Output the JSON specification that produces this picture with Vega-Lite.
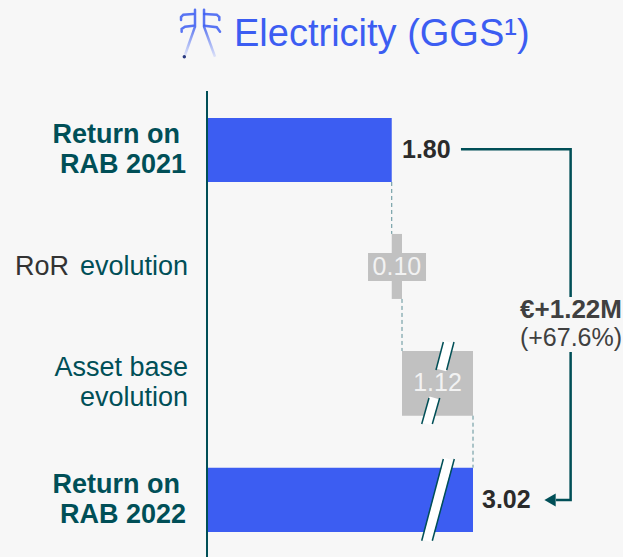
{
"$schema":"https://vega.github.io/schema/vega-lite/v6.json",
"width":623,"height":557,"autosize":"none","padding":0,"background":"#F7F7F7",
"config":{"view":{"stroke":null},"text":{"font":"Liberation Sans"}},
"datasets":{
"bars":[
{"name":"Return on RAB 2021","x":0,"x2":1.8,"y":0.732,"y2":1.281,"kind":"total"},
{"name":"RoR evolution","x":1.8,"x2":1.9,"y":1.727,"y2":2.285,"kind":"delta"},
{"name":"RoR evolution label","x":1.569,"x2":2.279,"y":1.891,"y2":2.13,"kind":"delta"},
{"name":"Asset base evolution","x":1.9,"x2":3.02,"y":2.732,"y2":3.287,"kind":"delta"},
{"name":"Return on RAB 2022","x":0,"x2":3.02,"y":3.733,"y2":4.286,"kind":"total"}],
"dashes":[{"x":1.8,"y":1.281,"y2":1.727},{"x":1.9,"y":2.285,"y2":2.732},{"x":3.02,"y":3.287,"y2":3.733}],
"bracket":[
{"g":"a","o":1,"x":2.83,"y":1.0},{"g":"a","o":2,"x":4.56,"y":1.0},{"g":"a","o":3,"x":4.56,"y":2.268},
{"g":"b","o":1,"x":4.56,"y":2.74},{"g":"b","o":2,"x":4.56,"y":4.01},{"g":"b","o":3,"x":4.33,"y":4.01}],
"strips":[
{"g":"u","o":1,"x":2.637,"y":2.655},{"g":"u","o":2,"x":2.52,"y":2.895},
{"g":"l","o":1,"x":2.41,"y":3.135},{"g":"l","o":2,"x":2.294,"y":3.358},
{"g":"b","o":1,"x":2.638,"y":3.659},{"g":"b","o":2,"x":2.294,"y":4.36}],
"stripEdges":[
{"g":"u1","o":1,"x":2.552,"y":2.655},{"g":"u1","o":2,"x":2.436,"y":2.895},
{"g":"u2","o":1,"x":2.72,"y":2.655},{"g":"u2","o":2,"x":2.605,"y":2.895},
{"g":"l1","o":1,"x":2.326,"y":3.135},{"g":"l1","o":2,"x":2.211,"y":3.358},
{"g":"l2","o":1,"x":2.495,"y":3.135},{"g":"l2","o":2,"x":2.378,"y":3.358},
{"g":"b1","o":1,"x":2.552,"y":3.659},{"g":"b1","o":2,"x":2.211,"y":4.36},
{"g":"b2","o":1,"x":2.725,"y":3.659},{"g":"b2","o":2,"x":2.378,"y":4.36}],
"iconArms":[
{"g":"a","o":1,"x":-0.133,"y":-0.161},{"g":"a","o":2,"x":-0.231,"y":-0.155},{"g":"a","o":3,"x":-0.253,"y":-0.135},{"g":"a","o":4,"x":-0.253,"y":-0.109},
{"g":"b","o":1,"x":-0.133,"y":-0.061},{"g":"b","o":2,"x":-0.214,"y":-0.052},{"g":"b","o":3,"x":-0.247,"y":-0.032},{"g":"b","o":4,"x":-0.247,"y":-0.009},
{"g":"c","o":1,"x":-0.026,"y":-0.161},{"g":"c","o":2,"x":0.095,"y":-0.155},{"g":"c","o":3,"x":0.12,"y":-0.135},{"g":"c","o":4,"x":0.12,"y":-0.109},
{"g":"d","o":1,"x":-0.026,"y":-0.061},{"g":"d","o":2,"x":0.095,"y":-0.047},{"g":"d","o":3,"x":0.127,"y":-0.009},
{"g":"e","o":1,"x":-0.117,"y":-0.197},{"g":"e","o":2,"x":-0.117,"y":-0.052},
{"g":"f","o":1,"x":-0.029,"y":-0.197},{"g":"f","o":2,"x":-0.029,"y":-0.052}],
"iconLegs":[
{"g":"l","o":1,"x":-0.117,"y":-0.052},{"g":"l","o":2,"x":-0.214,"y":0.191},
{"g":"r","o":1,"x":-0.029,"y":-0.052},{"g":"r","o":2,"x":0.078,"y":0.206}],
"labels":[
{"t":"Return on","x":-0.263,"y":0.878,"role":"catBold"},
{"t":"RAB 2021","x":-0.205,"y":1.135,"role":"catBold"},
{"t":"RoR","x":-1.345,"y":2.01,"role":"catDark"},
{"t":"evolution","x":-0.185,"y":2.01,"role":"cat"},
{"t":"Asset base","x":-0.185,"y":2.878,"role":"cat"},
{"t":"evolution","x":-0.185,"y":3.135,"role":"cat"},
{"t":"Return on","x":-0.263,"y":3.88,"role":"catBold"},
{"t":"RAB 2022","x":-0.205,"y":4.137,"role":"catBold"},
{"t":"1.80","x":1.9,"y":1.006,"role":"value"},
{"t":"3.02","x":3.162,"y":4.01,"role":"value"},
{"t":"0.10","x":1.85,"y":2.01,"role":"inner"},
{"t":"1.12","x":2.46,"y":3.01,"role":"inner"},
{"t":"€+1.22M","x":4.566,"y":2.38,"role":"deltaBold"},
{"t":"(+67.6%)","x":4.566,"y":2.62,"role":"delta"},
{"t":"Electricity (GGS¹)","x":0.263,"y":0.019,"role":"title"}]
},
"encoding":{
"x":{"field":"x","type":"quantitative","scale":{"domain":[0,1.9,3.02],"range":[207,402,473],"nice":false,"zero":false},"axis":null},
"y":{"field":"y","type":"quantitative","scale":{"domain":[0.5,4.5],"range":[91,557],"nice":false,"zero":false},"axis":null}
},
"layer":[
{"data":{"name":"bars"},"mark":{"type":"rect"},"encoding":{"x2":{"field":"x2"},"y2":{"field":"y2"},"color":{"field":"kind","type":"nominal","scale":{"domain":["total","delta"],"range":["#3C5DF2","#C1C1C1"]},"legend":null}}},
{"data":{"name":"dashes"},"mark":{"type":"rule","stroke":"#5E9098","strokeWidth":1,"strokeDash":[4,3]},"encoding":{"y2":{"field":"y2"}}},
{"data":{"values":[{"x":0,"y":0.5,"y2":4.5}]},"mark":{"type":"rule","stroke":"#004F57","strokeWidth":2},"encoding":{"y2":{"field":"y2"}}},
{"data":{"name":"strips"},"mark":{"type":"line","stroke":"#FFFFFF","strokeWidth":10,"strokeCap":"butt"},"encoding":{"detail":{"field":"g"},"order":{"field":"o"}}},
{"data":{"name":"stripEdges"},"mark":{"type":"line","stroke":"#004F57","strokeWidth":1.5,"strokeCap":"butt"},"encoding":{"detail":{"field":"g"},"order":{"field":"o"}}},
{"data":{"name":"bracket"},"mark":{"type":"line","stroke":"#004F57","strokeWidth":2.5,"strokeJoin":"miter"},"encoding":{"detail":{"field":"g"},"order":{"field":"o"}}},
{"data":{"values":[{"x":4.235,"y":4.01}]},"mark":{"type":"point","shape":"triangle-left","filled":true,"fill":"#004F57","stroke":null,"size":170,"opacity":1}},
{"data":{"name":"iconArms"},"mark":{"type":"line","stroke":"#3C5DF2","strokeWidth":2.5,"opacity":0.85,"strokeCap":"round","interpolate":"linear"},"encoding":{"detail":{"field":"g"},"order":{"field":"o"}}},
{"data":{"name":"iconLegs"},"mark":{"type":"line","strokeWidth":2.5,"stroke":{"gradient":"linear","x1":0,"y1":0,"x2":0,"y2":1,"stops":[{"offset":0,"color":"#5D78F0"},{"offset":1,"color":"#DDE2F8"}]}},"encoding":{"detail":{"field":"g"},"order":{"field":"o"}}},
{"data":{"values":[{"x":-0.221,"y":0.206}]},"mark":{"type":"point","filled":true,"fill":"#2A3A80","stroke":null,"size":12,"opacity":1}},
{"data":{"name":"labels"},"transform":[{"filter":"datum.role=='catBold'"}],"mark":{"type":"text","align":"right","baseline":"middle","fontSize":27,"fontWeight":"bold","fill":"#004F57"},"encoding":{"text":{"field":"t"}}},
{"data":{"name":"labels"},"transform":[{"filter":"datum.role=='cat'"}],"mark":{"type":"text","align":"right","baseline":"middle","fontSize":27,"fill":"#004F57"},"encoding":{"text":{"field":"t"}}},
{"data":{"name":"labels"},"transform":[{"filter":"datum.role=='catDark'"}],"mark":{"type":"text","align":"right","baseline":"middle","fontSize":27,"fill":"#333333"},"encoding":{"text":{"field":"t"}}},
{"data":{"name":"labels"},"transform":[{"filter":"datum.role=='value'"}],"mark":{"type":"text","align":"left","baseline":"middle","fontSize":25,"fontWeight":"bold","fill":"#2B2B2B"},"encoding":{"text":{"field":"t"}}},
{"data":{"name":"labels"},"transform":[{"filter":"datum.role=='inner'"}],"mark":{"type":"text","align":"center","baseline":"middle","fontSize":25,"fill":"#F2F2F2"},"encoding":{"text":{"field":"t"}}},
{"data":{"name":"labels"},"transform":[{"filter":"datum.role=='deltaBold'"}],"mark":{"type":"text","align":"center","baseline":"middle","fontSize":26,"fontWeight":"bold","fill":"#404040"},"encoding":{"text":{"field":"t"}}},
{"data":{"name":"labels"},"transform":[{"filter":"datum.role=='delta'"}],"mark":{"type":"text","align":"center","baseline":"middle","fontSize":25,"fill":"#404040"},"encoding":{"text":{"field":"t"}}},
{"data":{"name":"labels"},"transform":[{"filter":"datum.role=='title'"}],"mark":{"type":"text","align":"left","baseline":"middle","fontSize":38,"fill":"#3C5DF2"},"encoding":{"text":{"field":"t"}}}
]
}
